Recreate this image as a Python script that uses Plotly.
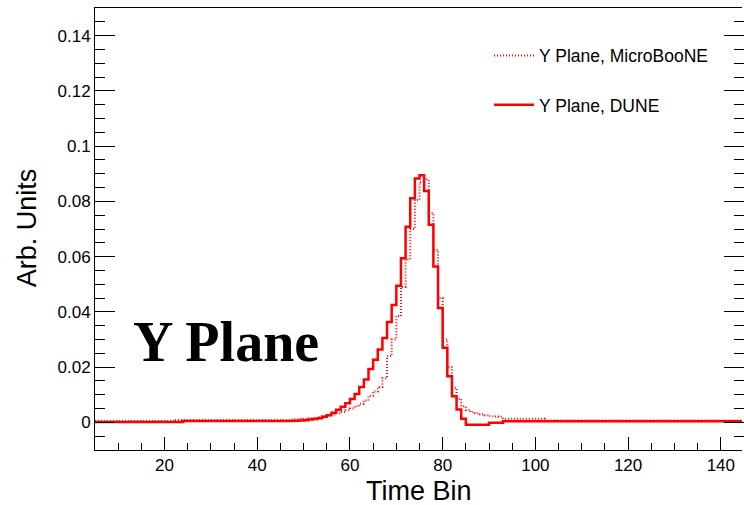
import plotly.graph_objects as go

# Lower edges of the time bins (unit-width bins)
time_bins = list(range(5, 145))

# Y plane response, DUNE (one value per bin, bins 5..144)
dune_y = [
    0.0001, 0.0001, 0.0001, 0.0001, 0.0001, 0.0001, 0.0001, 0.0001, 0.0001, 0.0001,
    0.0001, 0.0001, 0.0001, 0.0001, 0.0001, 0.0001, 0.0001, 0.0001, 0.0001, 0.0005,
    0.0005, 0.0005, 0.0005, 0.0005, 0.0005, 0.0005, 0.0005, 0.0005, 0.0005, 0.0005,
    0.0005, 0.0005, 0.0005, 0.0005, 0.0005, 0.0005, 0.0005, 0.0005, 0.0005, 0.0005,
    0.0005, 0.0005, 0.0005, 0.0006, 0.0007, 0.0008, 0.0010, 0.0012, 0.0015, 0.0020,
    0.0026, 0.0035, 0.0046, 0.0057, 0.0069, 0.0085, 0.0103, 0.0128, 0.0155, 0.0193,
    0.0227, 0.0264, 0.0305, 0.0363, 0.0425, 0.0495, 0.0594, 0.0708, 0.0811, 0.0883,
    0.0895, 0.0838, 0.0715, 0.0564, 0.0414, 0.0270, 0.0167, 0.0095, 0.0047, 0.0013,
    -0.0009, -0.0009, -0.0009, -0.0009, -0.0009, -0.0001, -0.0001, -0.0001, 0.0004, 0.0004,
    0.0004, 0.0004, 0.0004, 0.0004, 0.0004, 0.0004, 0.0004, 0.0004, 0.0004, 0.0004,
    0.0004, 0.0004, 0.0004, 0.0004, 0.0004, 0.0004, 0.0004, 0.0004, 0.0004, 0.0004,
    0.0004, 0.0004, 0.0004, 0.0004, 0.0004, 0.0004, 0.0004, 0.0004, 0.0004, 0.0004,
    0.0004, 0.0004, 0.0004, 0.0004, 0.0004, 0.0004, 0.0004, 0.0004, 0.0004, 0.0004,
    0.0004, 0.0004, 0.0004, 0.0004, 0.0004, 0.0004, 0.0004, 0.0004, 0.0004, 0.0004,
]

# Y plane response, MicroBooNE (one value per bin, bins 5..144)
uboone_y = [
    0.0005, 0.0005, 0.0005, 0.0005, 0.0005, 0.0005, 0.0005, 0.0005, 0.0005, 0.0005,
    0.0005, 0.0005, 0.0005, 0.0005, 0.0005, 0.0005, 0.0005, 0.0009, 0.0009, 0.0009,
    0.0009, 0.0009, 0.0009, 0.0009, 0.0009, 0.0009, 0.0009, 0.0009, 0.0009, 0.0009,
    0.0009, 0.0009, 0.0009, 0.0009, 0.0009, 0.0009, 0.0009, 0.0009, 0.0009, 0.0009,
    0.0009, 0.0009, 0.0010, 0.0011, 0.0012, 0.0013, 0.0015, 0.0017, 0.0019, 0.0022,
    0.0025, 0.0029, 0.0033, 0.0038, 0.0044, 0.0050, 0.0058, 0.0067, 0.0079, 0.0096,
    0.0112, 0.0128, 0.0160, 0.0240, 0.0300, 0.0385, 0.0490, 0.0590, 0.0700, 0.0805,
    0.0870, 0.0880, 0.0758, 0.0624, 0.0450, 0.0300, 0.0200, 0.0125, 0.0085, 0.0058,
    0.0045, 0.0037, 0.0033, 0.0029, 0.0026, 0.0022, 0.0021, 0.0020, 0.0013, 0.0013,
    0.0013, 0.0013, 0.0013, 0.0013, 0.0013, 0.0013, 0.0013, 0.0007, 0.0007, 0.0007,
    0.0007, 0.0007, 0.0007, 0.0007, 0.0007, 0.0007, 0.0007, 0.0007, 0.0007, 0.0007,
    0.0007, 0.0007, 0.0007, 0.0007, 0.0007, 0.0007, 0.0007, 0.0007, 0.0007, 0.0007,
    0.0007, 0.0007, 0.0007, 0.0007, 0.0007, 0.0007, 0.0007, 0.0007, 0.0007, 0.0007,
    0.0007, 0.0007, 0.0007, 0.0007, 0.0007, 0.0007, 0.0007, 0.0007, 0.0007, 0.0007,
]

x_ticks = [20, 40, 60, 80, 100, 120, 140]
y_ticks = [0, 0.02, 0.04, 0.06, 0.08, 0.1, 0.12, 0.14]
y_tick_text = ["0", "0.02", "0.04", "0.06", "0.08", "0.1", "0.12", "0.14"]

RED = "#ff0000"
FONT = "Liberation Sans, Arial, sans-serif"


def step_xy(values):
    """Histogram outline: bin edges with the last value repeated for the closing edge."""
    xs = list(time_bins) + [time_bins[-1] + 1]
    ys = list(values) + [values[-1]]
    return xs, ys


fig = go.Figure()

xs, ys = step_xy(uboone_y)
fig.add_trace(go.Scatter(
    x=xs, y=ys, mode="lines", line=dict(color=RED, width=2, dash="1px,2px", shape="hv"),
    name="Y Plane, MicroBooNE", legend="legend",
))
xs, ys = step_xy(dune_y)
fig.add_trace(go.Scatter(
    x=xs, y=ys, mode="lines", line=dict(color=RED, width=2.5, shape="hv"),
    name="Y Plane, DUNE", legend="legend2",
))

legend_style = dict(
    xanchor="left", yanchor="middle", bgcolor="rgba(0,0,0,0)",
    font=dict(family=FONT, size=17.5, color="#000"), itemwidth=40,
    tracegroupgap=0,
)

fig.update_layout(
    width=744, height=505,
    margin=dict(l=95, r=0, t=8, b=55),
    plot_bgcolor="white", paper_bgcolor="white",
    showlegend=True,
    legend=dict(x=0.609, y=0.892, **legend_style),
    legend2=dict(x=0.609, y=0.781, **legend_style),
    xaxis=dict(
        range=[5, 144.57], showgrid=False, zeroline=False,
        showline=True, linecolor="black", linewidth=1, mirror=True,
        ticks="inside", ticklen=13, tickcolor="black", tickwidth=1,
        tickvals=x_ticks, tickfont=dict(family=FONT, size=17, color="#000"),
        minor=dict(dtick=5, tick0=0, ticks="inside", ticklen=7, tickcolor="black", showgrid=False),
    ),
    yaxis=dict(
        range=[-0.01, 0.15], showgrid=False, zeroline=False,
        showline=True, linecolor="black", linewidth=1, mirror=False,
        ticks="inside", ticklen=20, tickcolor="black", tickwidth=1,
        tickvals=y_ticks, ticktext=y_tick_text,
        tickfont=dict(family=FONT, size=17, color="#000"),
        minor=dict(dtick=0.005, tick0=0, ticks="inside", ticklen=10, tickcolor="black", showgrid=False),
    ),
    yaxis2=dict(
        overlaying="y", matches="y", anchor="free", position=1, shift=2, side="right",
        showgrid=False, zeroline=False, showline=False,
        ticks="inside", ticklen=20, tickcolor="black", tickwidth=1,
        tickvals=y_ticks, showticklabels=False,
        minor=dict(dtick=0.005, tick0=0, ticks="inside", ticklen=10, tickcolor="black", showgrid=False),
    ),
    annotations=[
        dict(text="Time Bin", xref="paper", yref="paper", x=0.5, y=-0.056,
             xanchor="center", yanchor="top", showarrow=False, borderpad=0,
             font=dict(family=FONT, size=27, color="#000")),
        dict(text="Arb. Units", xref="paper", yref="paper", x=-0.105, y=0.502,
             xanchor="center", yanchor="middle", textangle=-90, showarrow=False,
             font=dict(family=FONT, size=27, color="#000")),
        dict(text="<b>Y Plane</b>", xref="paper", yref="paper", x=0.055, y=0.245,
             xanchor="left", yanchor="middle", showarrow=False,
             font=dict(family="Liberation Serif, Times New Roman, serif", size=56, color="#000")),
    ],
)

# Keep the right-hand tick axis drawn even though no trace uses it
fig.add_trace(go.Scatter(x=[None], y=[None], yaxis="y2", showlegend=False, hoverinfo="skip"))

fig.write_html("out.html")
